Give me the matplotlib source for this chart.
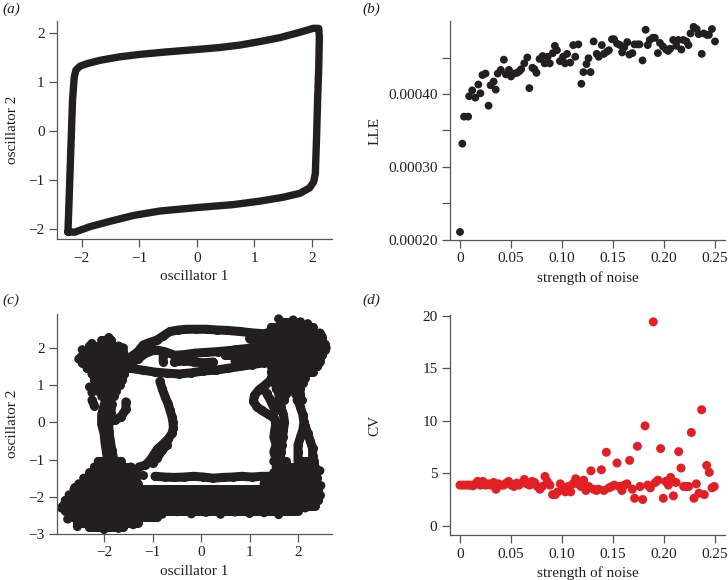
import numpy as np
import matplotlib
matplotlib.use("Agg")
import matplotlib.pyplot as plt

plt.rcParams['font.family'] = ['Liberation Serif', 'DejaVu Serif']
plt.rcParams['axes.unicode_minus'] = True

DARK = '#231f20'
RED = '#e31f26'
SPINE = '#555555'

# ---------------- panel (a): limit cycle ----------------
osc1_a = [-2.24, -2.22, -2.19, -2.16, -2.13, -2.10, -2.03, -1.91, -1.68, -1.34, -0.99, -0.53, 0.00,
          0.40, 0.75, 1.09, 1.44, 1.79, 2.02, 2.12, 2.13, 2.12, 2.10, 2.08, 2.06, 2.03, 1.96, 1.79,
          1.50, 1.09, 0.63, 0.00, -0.64, -1.10, -1.51, -1.86, -2.12, -2.24]
osc2_a = [-2.06, -1.41, -0.39, 0.63, 1.10, 1.24, 1.32, 1.37, 1.44, 1.51, 1.56, 1.61, 1.66,
          1.70, 1.75, 1.82, 1.90, 2.01, 2.09, 2.09, 1.92, 1.31, 0.63, -0.19, -0.87, -1.04, -1.16, -1.27,
          -1.35, -1.43, -1.50, -1.56, -1.63, -1.72, -1.84, -1.95, -2.06, -2.06]

# ---------------- panel (b): LLE vs noise ----------------
noise_b = [0.000, 0.0023, 0.004, 0.008, 0.009, 0.012, 0.015, 0.018, 0.020, 0.022, 0.025, 0.028, 0.030,
           0.033, 0.035, 0.037, 0.040, 0.043, 0.045, 0.048, 0.050, 0.053, 0.056, 0.058, 0.060, 0.063,
           0.066, 0.068, 0.071, 0.073, 0.075, 0.078, 0.081, 0.083, 0.086, 0.088, 0.091, 0.093, 0.095,
           0.098, 0.101, 0.103, 0.105, 0.108, 0.111, 0.113, 0.116, 0.119, 0.121, 0.124, 0.126, 0.128,
           0.131, 0.134, 0.136, 0.139, 0.141, 0.144, 0.146, 0.149, 0.151, 0.154, 0.157, 0.159, 0.161,
           0.164, 0.166, 0.169, 0.171, 0.174, 0.176, 0.179, 0.182, 0.184, 0.186, 0.189, 0.191, 0.194,
           0.196, 0.199, 0.202, 0.204, 0.206, 0.209, 0.212, 0.214, 0.217, 0.219, 0.222, 0.224, 0.226,
           0.229, 0.232, 0.234, 0.237, 0.239, 0.242, 0.244, 0.247, 0.250]
lle_e4 = [2.11, 3.32, 3.69, 3.69, 3.97, 4.05, 3.95, 4.13, 4.01, 4.26, 4.28, 3.84, 4.12, 4.17, 4.06,
          4.28, 4.33, 4.47, 4.27, 4.33, 4.24, 4.28, 4.29, 4.31, 4.34, 4.42, 4.50, 4.08, 4.36, 4.34,
          4.29, 4.48, 4.52, 4.42, 4.51, 4.42, 4.56, 4.66, 4.60, 4.45, 4.51, 4.42, 4.55, 4.43, 4.67,
          4.51, 4.68, 4.14, 4.30, 4.41, 4.49, 4.30, 4.72, 4.55, 4.51, 4.67, 4.55, 4.58, 4.60, 4.75,
          4.75, 4.69, 4.67, 4.57, 4.64, 4.71, 4.54, 4.56, 4.68, 4.68, 4.68, 4.46, 4.88, 4.67, 4.74,
          4.77, 4.77, 4.56, 4.70, 4.65, 4.61, 4.59, 4.62, 4.74, 4.66, 4.74, 4.61, 4.74, 4.72, 4.67,
          4.83, 4.92, 4.89, 4.82, 4.55, 4.83, 4.81, 4.81, 4.89, 4.72]

# ---------------- panel (c): noisy trajectory ----------------
# dense regions (rows of overlapping points): y, x-start, x-end
c_row_y = [2.2, 2.05, 1.9, 1.75, 1.6, 1.45, 1.3, 1.15, 1.0, 0.85, 0.7,
           -1.05, -1.2, -1.35, -1.5, -1.65, -1.8, -1.95, -2.1, -2.25, -2.37, -2.55, -2.7, -2.82,
           -1.65, -1.5, -1.35, -1.2, -1.05, -1.05,
           2.7, 2.55, 2.4, 2.25, 2.1, 1.95, 1.8, 1.65, 1.5, 1.35, 1.2, 1.05, 0.9, 0.75, 0.75, 0.6, 0.6,
           1.95, 1.8, 1.65, 2.25]
c_row_x0 = [-2.05, -2.3, -2.42, -2.48, -2.45, -2.35, -2.25, -2.2, -2.15, -2.12, -2.05,
            -2.12, -2.2, -2.3, -2.42, -2.52, -2.62, -2.72, -2.8, -2.85, -2.8, -2.72, -2.55, -2.3,
            1.3, 1.45, 1.5, 1.55, 1.5, 2.0,
            1.65, 1.45, 1.35, 1.3, 1.3, 1.3, 1.35, 1.4, 1.45, 1.45, 1.45, 1.5, 1.55, 1.6, 1.95, 1.62, 1.98,
            0.7, 0.5, 0.7, 1.0]
c_row_x1 = [-1.85, -1.7, -1.6, -1.5, -1.45, -1.5, -1.58, -1.62, -1.68, -1.75, -1.8,
            -1.65, -1.45, -1.35, -1.35, -1.3, 2.42, 2.45, 2.42, 2.35, 2.0, -0.9, -1.3, -1.6,
            2.4, 2.4, 2.38, 2.35, 1.75, 2.33,
            2.05, 2.3, 2.45, 2.5, 2.55, 2.55, 2.5, 2.45, 2.4, 2.3, 2.15, 2.1, 2.05, 1.75, 2.05, 1.72, 2.08,
            1.4, 1.4, 1.4, 1.4]

# loose points on the edges of the dense regions
c_dot_x = [-1.1, -0.8, -0.5, -0.2, 0.1, 0.4, 0.7, 1.0, 1.3, 1.6, 1.9, 2.15,
           -2.52, -2.45, -1.9, -2.25, -1.6, -2.3, -2.25,
           -2.88, -2.75, -2.55, -2.0, -1.7, -1.4, -2.6, -2.4,
           1.6, 1.9, 2.2, 2.5, 2.58, 2.45,
           2.47, 2.45, 2.4]
c_dot_y = [-2.42, -2.47, -2.4, -2.46, -2.42, -2.47, -2.41, -2.45, -2.43, -2.48, -2.35, -2.3,
           1.7, 1.95, 2.28, 2.12, 2.0, 0.95, 0.8,
           -2.3, -2.6, -2.8, -2.88, -2.85, -2.75, -1.75, -1.55,
           2.78, 2.75, 2.65, 2.3, 2.0, 1.6,
           -1.7, -1.3, -2.1]

nan = np.nan
# thin strands of the trajectory (nan separates pieces)
osc1_c = [-1.95, -2.0, -2.05, -2.05, -2.0, -1.98, -1.95, -1.92, nan,
          -1.84, -1.86, -1.9, -1.9, -1.87, -1.84, -1.8, nan,
          -1.55, -1.55, -1.65, -1.78, nan,
          -2.25, -2.2, nan,
          -0.78, -0.78, nan,
          -0.85, -0.8, -0.74, -0.68, -0.64, -0.6, -0.58, -0.57, -0.6, -0.68, -0.78, -0.9, -0.98, -1.05, -1.15, -1.28, nan,
          -0.7, -0.8, -0.9, -1.0, nan,
          -1.2, nan,
          -0.95, -0.75, -0.55, -0.35, -0.15, 0.05, 0.25, 0.45, 0.65, 0.85, 1.05, 1.25, 1.45, nan,
          -1.45, -1.3, -1.19, -1.05, -0.91, -0.78, -0.64, -0.47, -0.3, -0.1, 0.12, 0.33, 0.53, 0.8, 1.08, 1.3, nan,
          -1.45, -1.3, -1.15, -0.95, -0.75, -0.54, -0.35, -0.12, 0.1, 0.35, 0.6, 0.85, 1.1, 1.3, nan,
          -1.45, -1.2, -0.95, -0.7, -0.45, -0.2, 0.05, 0.3, 0.55, 0.8, 1.05, 1.3, nan,
          -0.55, -0.35, -0.15, 0.05, 0.25, nan,
          1.45, 1.32, 1.2, 1.1, 1.08, 1.15, 1.25, 1.38, 1.5, 1.55, nan,
          1.35, 1.42, 1.48, 1.55, nan,
          1.6, 1.65, 1.7, 1.72, 1.7, 1.68, 1.66, 1.65, 1.63, nan,
          1.55, 1.52, 1.5, 1.55, 1.5, 1.55, nan,
          2.0, 2.05, 2.1, 2.12, 2.1, 2.05, 2.0, 2.0, 2.0, nan,
          2.15, 2.2, 2.25, 2.3, 2.3, 2.32, 2.35]
osc2_c = [0.7, 0.45, 0.2, -0.05, -0.3, -0.55, -0.8, -1.05, nan,
          0.5, 0.25, 0.0, -0.25, -0.5, -0.75, -1.0, nan,
          0.55, 0.35, 0.15, 0.05, nan,
          0.6, 0.45, nan,
          1.86, 1.63, nan,
          1.1, 0.9, 0.68, 0.5, 0.33, 0.15, 0.0, -0.15, -0.3, -0.45, -0.58, -0.72, -0.88, -1.02, -1.15, -1.2, nan,
          -0.6, -0.75, -0.95, -1.1, nan,
          -1.41, nan,
          -1.45, -1.47, -1.48, -1.47, -1.45, -1.47, -1.5, -1.48, -1.47, -1.45, -1.47, -1.45, -1.45, nan,
          1.75, 1.9, 2.08, 2.15, 2.21, 2.32, 2.44, 2.48, 2.5, 2.5, 2.5, 2.48, 2.47, 2.44, 2.4, 2.38, nan,
          1.6, 1.7, 1.85, 1.95, 1.9, 1.8, 1.82, 1.86, 1.88, 1.9, 1.93, 1.97, 2.0, 2.05, nan,
          1.45, 1.4, 1.35, 1.32, 1.3, 1.33, 1.38, 1.4, 1.45, 1.5, 1.55, 1.6, nan,
          1.62, 1.65, 1.62, 1.6, 1.62, nan,
          1.15, 1.0, 0.88, 0.72, 0.56, 0.42, 0.32, 0.22, 0.12, -0.02, nan,
          0.78, 0.62, 0.45, 0.32, nan,
          0.6, 0.4, 0.2, 0.0, -0.2, -0.4, -0.6, -0.8, -1.0, nan,
          0.0, -0.2, -0.4, -0.6, -0.8, -1.0, nan,
          0.6, 0.4, 0.2, 0.0, -0.2, -0.4, -0.6, -0.8, -1.0, nan,
          -0.1, -0.3, -0.5, -0.7, -0.9, -1.1, -1.3]

# ---------------- panel (d): CV vs noise ----------------
noise_d = [0.0000, 0.0026, 0.0052, 0.0078, 0.0101, 0.0127, 0.0150, 0.0173, 0.0199, 0.0225, 0.0252,
           0.0278, 0.0304, 0.0330, 0.0353, 0.0379, 0.0405, 0.0428, 0.0454, 0.0477, 0.0503, 0.0529,
           0.0556, 0.0578, 0.0605, 0.0631, 0.0657, 0.0683, 0.0706, 0.0732, 0.0758, 0.0784, 0.0807,
           0.0833, 0.0856, 0.0882, 0.0908, 0.0935, 0.0958, 0.0984, 0.1010, 0.1033, 0.1059, 0.1085,
           0.1108, 0.1134, 0.1160, 0.1186, 0.1212, 0.1235, 0.1261, 0.1284, 0.1310, 0.1337, 0.1359,
           0.1386, 0.1412, 0.1435, 0.1461, 0.1487, 0.1513, 0.1539, 0.1562, 0.1588, 0.1611, 0.1637,
           0.1663, 0.1690, 0.1712, 0.1739, 0.1765, 0.1791, 0.1814, 0.1840, 0.1866, 0.1895, 0.1915,
           0.1941, 0.1967, 0.1993, 0.2016, 0.2043, 0.2065, 0.2092, 0.2118, 0.2144, 0.2167, 0.2193,
           0.2219, 0.2242, 0.2268, 0.2294, 0.2317, 0.2343, 0.2369, 0.2395, 0.2418, 0.2444, 0.2471,
           0.2493]
cv_d = [3.89, 3.89, 3.89, 3.89, 3.89, 3.82, 4.01, 4.24, 3.89, 4.24, 3.89, 4.01, 3.89, 4.14, 3.50,
        4.01, 3.89, 3.89, 4.08, 4.24, 3.89, 3.76, 4.08, 3.89, 4.08, 4.43, 4.01, 3.89, 4.24, 4.14,
        3.76, 3.50, 3.76, 4.71, 4.24, 3.89, 2.99, 2.99, 3.25, 4.01, 3.50, 3.25, 3.76, 3.25, 4.01,
        4.49, 4.01, 3.76, 4.36, 3.38, 3.76, 5.25, 3.50, 3.38, 3.50, 5.35, 3.38, 7.01, 3.63, 3.76,
        3.89, 5.99, 3.76, 3.38, 3.89, 4.01, 6.24, 3.50, 2.64, 7.58, 3.76, 2.52, 9.52, 3.89, 3.63,
        19.4, 4.14, 4.36, 7.36, 2.64, 4.24, 3.89, 4.62, 2.87, 4.14, 7.07, 5.51, 3.76, 3.76, 3.76,
        8.89, 2.64, 4.01, 3.12, 11.05, 2.99, 5.76, 5.10, 3.63, 3.76]

noise_ticks = [0, 0.05, 0.10, 0.15, 0.20, 0.25]
noise_labels = ['0', '0.05', '0.10', '0.15', '0.20', '0.25']
lle_ticks = [0.00020, 0.00025, 0.00030, 0.00035, 0.00040, 0.00045]
lle_labels = ['0.00020', '', '0.00030', '', '0.00040', '']

W, H = 728, 580
FS = 11
fig = plt.figure(figsize=(W / 100, H / 100), dpi=100)


def box(l, r, t, b):
    return [l / W, 1 - b / H, (r - l) / W, (b - t) / H]


def style(ax):
    for s in ['top', 'right']:
        ax.spines[s].set_visible(False)
    for s in ['left', 'bottom']:
        ax.spines[s].set_color(SPINE)
        ax.spines[s].set_linewidth(0.9)
    ax.tick_params(direction='out', length=6, width=0.9, color=SPINE,
                   labelsize=FS, pad=3, labelcolor=DARK)


ax_a = fig.add_axes(box(57, 332, 21, 239))
ax_b = fig.add_axes(box(450, 725, 21, 240))
ax_c = fig.add_axes(box(57, 332, 314, 534))
ax_d = fig.add_axes(box(450, 725, 315, 535))
for ax in (ax_a, ax_b, ax_c, ax_d):
    style(ax)

# (a)
ax_a.plot(osc1_a, osc2_a, color=DARK, lw=5.3, solid_joinstyle='round', solid_capstyle='round')
ax_a.set_xlim(-2.43, 2.35)
ax_a.set_ylim(-2.2, 2.24)
ax_a.set_xticks([-2, -1, 0, 1, 2])
ax_a.set_yticks([-2, -1, 0, 1, 2])
ax_a.set_xlabel('oscillator 1', fontsize=FS, color=DARK)
ax_a.set_ylabel('oscillator 2', fontsize=FS, color=DARK)

# (b)
ax_b.scatter(noise_b, np.array(lle_e4) * 1e-4, s=32, color=DARK, edgecolors='none', zorder=3)
ax_b.set_xlim(-0.0098, 0.2598)
ax_b.set_ylim(0.0002, 0.0005)
ax_b.set_xticks(noise_ticks)
ax_b.set_xticklabels(noise_labels)
ax_b.set_yticks(lle_ticks)
ax_b.set_yticklabels(lle_labels)
ax_b.set_xlabel('strength of noise', fontsize=FS, color=DARK)
ax_b.set_ylabel('LLE', fontsize=FS, color=DARK)

# (c)
ax_c.hlines(c_row_y, c_row_x0, c_row_x1, colors=DARK, linewidth=6.5, capstyle='round')
ax_c.scatter(c_row_x0 + c_row_x1, c_row_y + c_row_y, s=6.5 ** 2, color=DARK, edgecolors='none')
ax_c.scatter(c_dot_x, c_dot_y, s=6.5 ** 2, color=DARK, edgecolors='none')
ax_c.plot(osc1_c, osc2_c, '-o', color=DARK, lw=6.5, ms=6.5, mec='none',
          solid_joinstyle='round', solid_capstyle='round')
ax_c.set_xlim(-2.97, 2.70)
ax_c.set_ylim(-3.0, 2.91)
ax_c.set_xticks([-2, -1, 0, 1, 2])
ax_c.set_yticks([-3, -2, -1, 0, 1, 2])
ax_c.set_xlabel('oscillator 1', fontsize=FS, color=DARK)
ax_c.set_ylabel('oscillator 2', fontsize=FS, color=DARK)

# (d)
ax_d.scatter(noise_d, cv_d, s=42, color=RED, edgecolors='none', zorder=3)
ax_d.set_xlim(-0.0098, 0.2598)
ax_d.set_ylim(-0.85, 20.05)
ax_d.set_xticks(noise_ticks)
ax_d.set_xticklabels(noise_labels)
ax_d.set_yticks([0, 5, 10, 15, 20])
ax_d.set_xlabel('strength of noise', fontsize=FS, color=DARK)
ax_d.set_ylabel('CV', fontsize=FS, color=DARK)

# label positions (axes coords)
ax_a.yaxis.set_label_coords(-0.138, 0.5)
ax_c.yaxis.set_label_coords(-0.138, 0.5)
ax_b.yaxis.set_label_coords(-0.25, 0.5)
ax_d.yaxis.set_label_coords(-0.25, 0.5)
for ax in (ax_a, ax_b, ax_c, ax_d):
    ax.xaxis.set_label_coords(0.5, -0.172)
    ax.xaxis.label.set_va('center')

for txt, x, y in [('(a)', 2, 9), ('(b)', 362, 9), ('(c)', 2, 300), ('(d)', 362, 300)]:
    fig.text(x / W, 1 - y / H, txt, fontsize=FS, style='italic', color=DARK, va='center', ha='left')

fig.savefig('out.png', dpi=100)
